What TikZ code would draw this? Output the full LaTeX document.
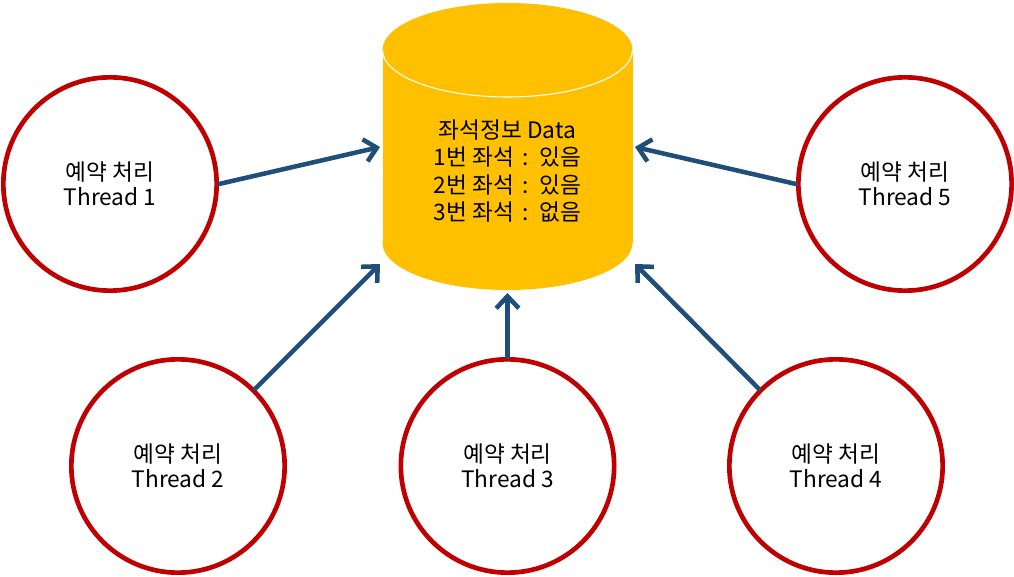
\documentclass[tikz,border=0pt]{standalone}
\usepackage{fontspec}
\setmainfont{Noto Sans CJK KR}
\usetikzlibrary{arrows.meta}

\definecolor{threadred}{RGB}{192,0,0}
\definecolor{accessblue}{RGB}{31,78,121}
\definecolor{dbyellow}{RGB}{255,192,0}

\tikzset{
	thread/.style = {circle, draw=threadred, fill=white, line width=3.5pt,
		minimum size=160pt, inner sep=0pt, align=center,
		font=\fontsize{17}{19}\selectfont},
	access/.style = {accessblue, line width=3.4pt, line cap=round, line join=round,
		-{Straight Barb[length=9pt, width=17pt]}},
}

\begin{document}
\begin{tikzpicture}[x=0.75pt, y=-0.75pt]
	\useasboundingbox (0,0) rectangle (1014,577);

	% data store
	\fill[dbyellow] (382.5,50) rectangle (632.5,243);
	\fill[dbyellow] (507.5,243) ellipse[x radius=125, y radius=47];
	\fill[dbyellow] (507.5,50) ellipse[x radius=125, y radius=47];
	\draw[white, line width=0.8pt] (382.5,50)
		arc[start angle=180, end angle=0, x radius=125, y radius=47];
	\node[align=center, font=\fontsize{17}{20.6}\selectfont] (db) at (507.5,171)
		{좌석정보 Data\\1번 좌석 \,:\, 있음\\2번 좌석 \,:\, 있음\\3번 좌석 \,:\, 없음};

	\coordinate[](in1) at (380,147) ;
	\coordinate[](in2) at (380,264) ;
	\coordinate[](in3) at (507.5,293) ;
	\coordinate[](in4) at (635,264) ;
	\coordinate[](in5) at (635,147) ;

	\node[thread] (t1) at (110,184) {예약 처리\\Thread 1};
	\node[thread] (t2) at (178,466) {예약 처리\\Thread 2};
	\node[thread] (t3) at (507.5,466) {예약 처리\\Thread 3};
	\node[thread] (t4) at (836,466) {예약 처리\\Thread 4};
	\node[thread] (t5) at (905,184) {예약 처리\\Thread 5};

	\draw[access] (t1.east) -- (in1);
	\draw[access] (t2.north east) -- (in2);
	\draw[access] (t3.north) -- (in3);
	\draw[access] (t4.north west) -- (in4);
	\draw[access] (t5.west) -- (in5);
\end{tikzpicture}
\end{document}
